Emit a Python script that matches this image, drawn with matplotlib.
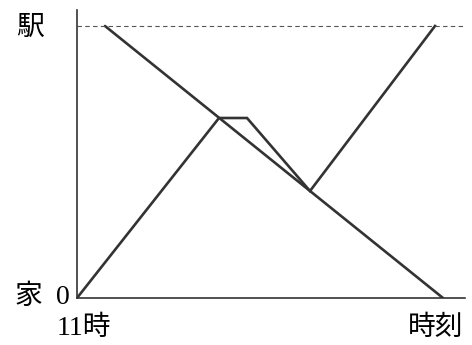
import matplotlib.pyplot as plt

plt.rcParams['font.family'] = ['Liberation Serif', 'Noto Sans CJK JP']

# 距離の単位: 駅まで 272
station = 272

# 一人目: 駅から家へ
walk1_t = [28, 366]
walk1_d = [272, 0]

# 二人目: 家 -> 出会う -> 停止 -> 戻る -> 駅
walk2_t = [0, 142, 170, 233, 358]
walk2_d = [0, 180, 180, 107, 272]

fig = plt.figure(figsize=(4.72, 3.45), dpi=100)
ax = fig.add_axes([77/472, 47/345, 388/472, 288/345])
ax.set_xlim(0, 388)
ax.set_ylim(0, 288)

col = "#333333"
ax.plot(walk1_t, walk1_d, color=col, lw=1.9, solid_capstyle="round")
ax.plot(walk2_t, walk2_d, color=col, lw=1.9, solid_joinstyle="miter")
ax.axhline(station, color="#555555", lw=0.8, ls=(0, (4, 3)))

for s in ["top", "right"]:
    ax.spines[s].set_visible(False)
ax.spines["left"].set_linewidth(1.2)
ax.spines["bottom"].set_linewidth(1.2)
ax.spines["left"].set_color(col)
ax.spines["bottom"].set_color(col)
ax.set_xticks([])
ax.set_yticks([])

fs = 20
ax.text(-47, 270, "駅", fontsize=fs, ha="center", va="center", clip_on=False)
ax.text(-49, 1, "家", fontsize=fs, ha="center", va="center", clip_on=False)
ax.text(-14, 1, "0", fontsize=fs, ha="center", va="center", clip_on=False)
ax.text(7, -30, "11時", fontsize=fs, ha="center", va="center", clip_on=False)
ax.text(359, -30, "時刻", fontsize=fs, ha="center", va="center", clip_on=False)

fig.savefig("out.png", dpi=100)
